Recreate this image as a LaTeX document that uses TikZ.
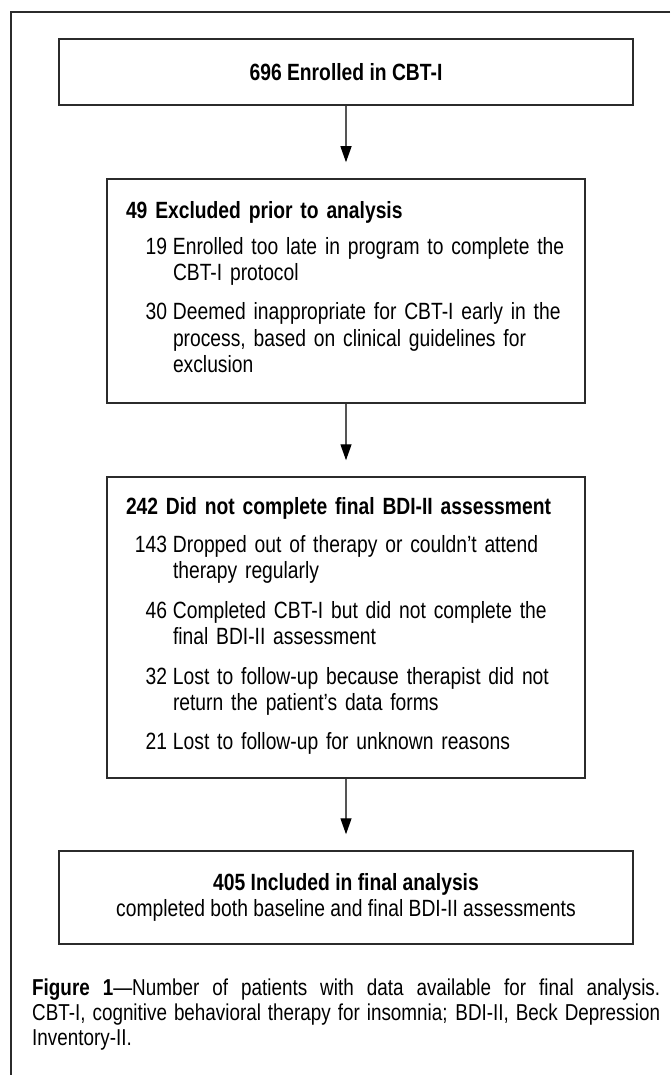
\documentclass[tikz,border=0pt]{standalone}
\usepackage{fontspec}
\setmainfont{Liberation Sans}[FakeStretch=0.82]
\usepackage{array}
\usetikzlibrary{arrows.meta,positioning}

\definecolor{boxline}{HTML}{2B2B2B}
\definecolor{arrline}{HTML}{555555}
\newcommand{\flowfont}{\fontsize{23.5}{26.5}\selectfont}
\newcommand{\figcapfont}{\fontsize{23}{25}\selectfont}
\newcommand{\cnt}[1]{\makebox[41pt][r]{#1}}

\tikzset{
    flowbox/.style={draw=boxline, line width=1.5pt, rectangle, inner sep=0pt},
    flowarrow/.style={draw=arrline, line width=1.3pt,
        -{Triangle[length=16pt,width=11pt,color=black]}, shorten >=16pt},
    frameline/.style={draw=boxline, line width=1.5pt}
}

\begin{document}
\begin{tikzpicture}[x=1pt,y=-1pt]
    \useasboundingbox (0,0) rectangle (670,1075);
    % outer frame
    \draw[frameline] (670,12) -- (11,12) -- (11,1075);

    % enrolled
    \node[flowbox, minimum width=574pt, minimum height=66pt,
        font=\flowfont\bfseries] (enrolled) at (346,72) {696 Enrolled in CBT-I};

    % excluded before analysis
    \node[flowbox, minimum width=478pt, minimum height=224pt,
        text width=440pt, align=left, font=\flowfont] (excluded) at (346,291)
        {\mbox{\textbf{49 Excluded prior to analysis}}\\[9pt]
        \begin{tabular}[t]{@{}r@{\hspace{6pt}}l@{}}
            \cnt{19} & Enrolled too late in program to complete the\\
                     & CBT-I protocol\\[12.5pt]
            30 & Deemed inappropriate for CBT-I early in the\\
               & process, based on clinical guidelines for\\
               & exclusion
        \end{tabular}};

    % incomplete assessment
    \node[flowbox, minimum width=478pt, minimum height=301pt,
        text width=440pt, align=left, font=\flowfont] (incomplete) at (346,627.5)
        {\mbox{\textbf{242 Did not complete final BDI-II assessment}}\\[11pt]
        \begin{tabular}[t]{@{}r@{\hspace{6pt}}l@{}}
            \cnt{143} & Dropped out of therapy or couldn’t attend\\
                      & therapy regularly\\[13pt]
            46 & Completed CBT-I but did not complete the\\
               & final BDI-II assessment\\[13pt]
            32 & Lost to follow-up because therapist did not\\
               & return the patient’s data forms\\[12.5pt]
            21 & Lost to follow-up for unknown reasons
        \end{tabular}};

    % included
    \node[flowbox, minimum width=574pt, minimum height=93pt,
        align=center, font=\flowfont] (included) at (346,897.5)
        {\textbf{405 Included in final analysis}\\
        completed both baseline and final BDI-II assessments};

    % arrows
    \draw[flowarrow] (enrolled) -- (excluded);
    \draw[flowarrow] (excluded) -- (incomplete);
    \draw[flowarrow] (incomplete) -- (included);

    % caption
    \node[anchor=north west, inner sep=0pt, text width=628pt, align=justify,
        font=\figcapfont] (caption) at (32,979)
        {\textbf{Figure 1}—Number of patients with data available for final analysis.\linebreak
        CBT-I, cognitive behavioral therapy for insomnia; BDI-II, Beck Depression\linebreak
        Inventory-II.};
\end{tikzpicture}
\end{document}
